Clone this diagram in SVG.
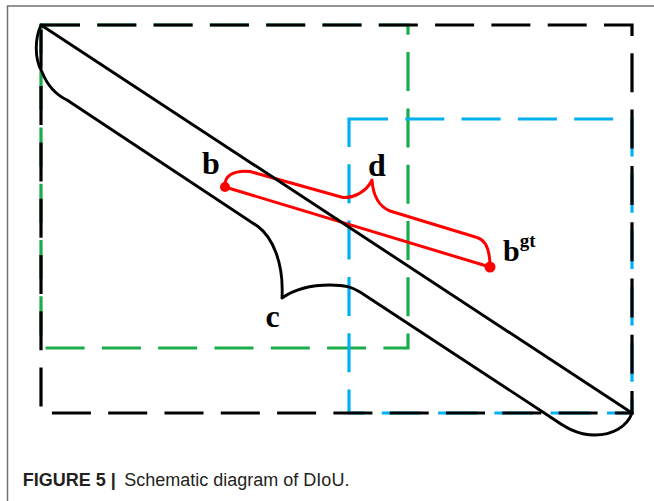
<svg xmlns="http://www.w3.org/2000/svg" width="654" height="501" viewBox="0 0 654 501">
<style>
.frame{stroke:#707070;stroke-width:1.5;fill:none}
.box{fill:none;stroke-width:3.2;stroke-dasharray:39 17.3}
.green{stroke:#1aab4b}
.blue{stroke:#00b0f0}
.black{stroke:#000}
.band{fill:none;stroke:#000;stroke-width:2.9;stroke-linejoin:round;stroke-linecap:round}
.red{fill:none;stroke:#ff0000;stroke-width:3;stroke-linejoin:round;stroke-linecap:round}
.dot{fill:#ff0000}
.lbl{font-family:"Liberation Serif","Times New Roman",serif;font-weight:bold;fill:#000}
.cap{font-family:"Liberation Sans",Arial,sans-serif;font-size:18px;fill:#231f20}
</style>
<rect width="654" height="501" fill="#fff"/>
<g id="frame">
<path class="frame" d="M7.5,501 V6 H654"/>
</g>
<g id="box-c-green"><rect class="box green" x="41" y="25" width="367" height="323"/></g>
<g id="box-gt-blue"><rect class="box blue" x="349" y="119" width="283" height="294"/></g>
<g id="box-enclosing"><rect class="box black" x="41" y="25" width="591" height="388"/></g>
<g id="connectors">
<path id="center-distance" class="red" d="M225,187 L490,267"/>
<path id="brace-d" class="red" d="M225,187 C224,176 233,170 250,171.5 L343,197.5 C352,198 366,193 372,180 C373,195 378,206 390,211 L477,237.5 C486,240 490,250 490,267"/>
</g>
<g id="diagonal-c">
<path class="band" d="M41,25 L632,413"/>
<path id="brace-c" class="band" d="M41,25 C35,38 34,58 42,72 Q50,92 67,100 L258,226.5 C272,237 284,262 282,298 C292,291 305,285 330,285 C345,285 352,287 360,292 L550,416.7 C562,425 575,435 595,435 C612,435 627,427 632,413"/>
</g>
<g id="node-b">
<circle class="dot" cx="225" cy="187" r="5"/>
<text class="lbl" x="202" y="174" font-size="32">b</text>
</g>
<g id="node-bgt">
<circle class="dot" cx="490" cy="267" r="5.5"/>
<text class="lbl" x="503" y="261" font-size="30">b<tspan font-size="19" dy="-14">gt</tspan></text>
</g>
<g id="label-d"><text class="lbl" x="368" y="176" font-size="32">d</text></g>
<g id="label-c"><text class="lbl" x="265.5" y="326.5" font-size="32">c</text></g>
<g id="caption">
<text class="cap" x="22.7" y="486" font-weight="bold">FIGURE 5 |</text>
<text class="cap" x="124.3" y="486">Schematic diagram of DIoU.</text>
</g>
</svg>
